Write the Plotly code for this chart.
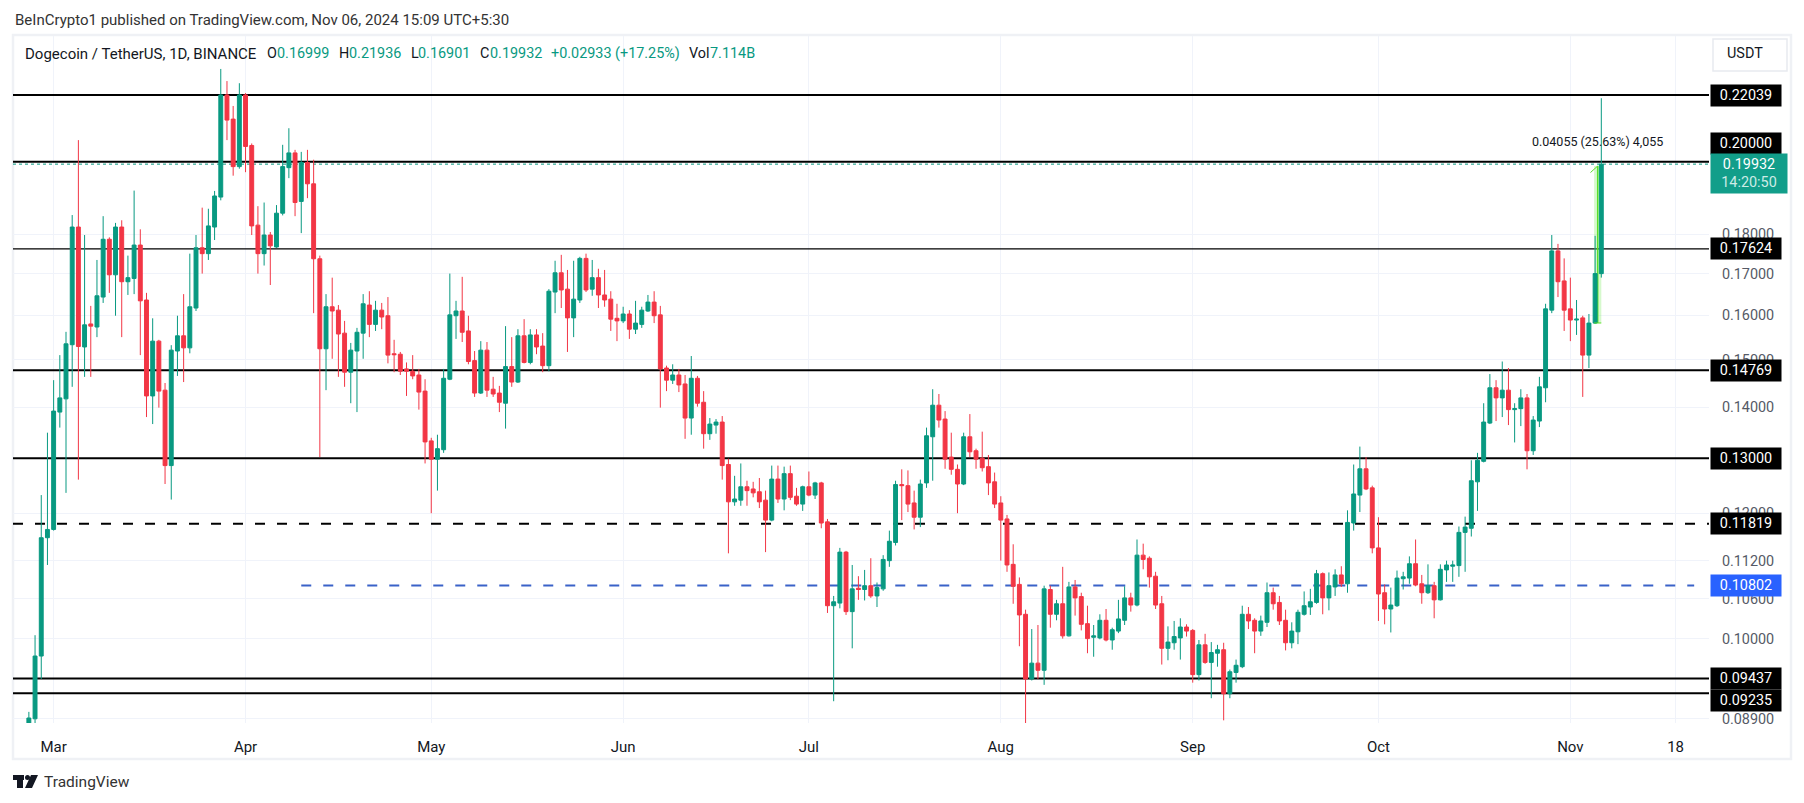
import math
import pandas as pd
import plotly.graph_objects as go

# Daily candles as (open, high, low, close), one small list per month
feb = [(.0860,.0899,.0855,.0891),(.0890,.1005,.0883,.0975),(.0975,.1232,.0943,.1158),(.1158,.1349,.1113,.1172)]
mar = [(.1172,.1456,.1170,.1392),(.1390,.1510,.1359,.1419),(.1417,.1562,.1236,.1535),(.1533,.1851,.1442,.1819),
(.1819,.2064,.1260,.1529),(.1528,.1798,.1463,.1578),(.1580,.1622,.1463,.1575),(.1573,.1734,.1550,.1646),
(.1643,.1848,.1629,.1787),(.1787,.1792,.1653,.1697),(.1697,.1830,.1599,.1819),(.1819,.1837,.1550,.1680),
(.1680,.1745,.1648,.1690),(.1688,.1918,.1650,.1772),(.1772,.1813,.1510,.1634),(.1636,.1653,.1380,.1423),
(.1423,.1593,.1366,.1541),(.1541,.1544,.1399,.1433),(.1435,.1450,.1252,.1286),(.1286,.1532,.1224,.1521),
(.1519,.1599,.1465,.1553),(.1553,.1650,.1452,.1526),(.1526,.1750,.1514,.1620),(.1617,.1798,.1610,.1765),
(.1765,.1871,.1700,.1750),(.1750,.1868,.1734,.1822),(.1819,.1917,.1785,.1903),(.1900,.2289,.1891,.2204),
(.2204,.2249,.2064,.2125),(.2128,.2169,.1960,.1986),(.1986,.2242,.1980,.2204)]
apr = [(.2204,.2210,.1970,.2045),(.2048,.2054,.1798,.1822),(.1824,.1875,.1700,.1750),(.1750,.1885,.1720,.1798),
(.1798,.1806,.1672,.1770),(.1767,.1878,.1765,.1856),(.1856,.2050,.1850,.1986),(.1983,.2100,.1953,.2026),
(.2026,.2035,.1848,.1885),(.1888,.2029,.1803,.1998),(.1998,.2035,.1897,.1937),(.1937,.2006,.1605,.1737),
(.1737,.1745,.1302,.1524),(.1524,.1650,.1435,.1620),(.1620,.1690,.1502,.1610),(.1612,.1624,.1463,.1557),
(.1559,.1587,.1442,.1473),(.1473,.1537,.1408,.1521),(.1519,.1571,.1390,.1561),(.1559,.1650,.1502,.1627),
(.1624,.1657,.1550,.1579),(.1579,.1634,.1564,.1612),(.1612,.1629,.1568,.1596),(.1599,.1643,.1492,.1510),
(.1513,.1544,.1473,.1511),(.1512,.1517,.1467,.1475),(.1480,.1494,.1423,.1475),(.1475,.1510,.1458,.1465),
(.1467,.1480,.1395,.1431),(.1433,.1458,.1290,.1331)]
may = [(.1333,.1339,.1200,.1298),(.1298,.1345,.1240,.1318),(.1316,.1480,.1310,.1460),(.1458,.1700,.1456,.1601),
(.1599,.1634,.1546,.1610),(.1610,.1692,.1539,.1561),(.1564,.1599,.1490,.1496),(.1498,.1519,.1421,.1429),
(.1429,.1541,.1427,.1521),(.1521,.1539,.1421,.1435),(.1437,.1463,.1421,.1427),(.1429,.1444,.1390,.1410),
(.1408,.1575,.1357,.1485),(.1485,.1550,.1442,.1452),(.1452,.1568,.1450,.1553),(.1553,.1591,.1492,.1494),
(.1494,.1568,.1490,.1555),(.1555,.1568,.1512,.1528),(.1530,.1559,.1473,.1487),(.1487,.1662,.1475,.1657),
(.1655,.1732,.1605,.1702),(.1702,.1747,.1617,.1660),(.1662,.1709,.1517,.1594),(.1594,.1732,.1550,.1638),
(.1636,.1742,.1629,.1738),(.1738,.1750,.1655,.1660),(.1662,.1734,.1646,.1690),(.1690,.1712,.1617,.1648),
(.1648,.1709,.1620,.1636),(.1638,.1657,.1564,.1591),(.1593,.1627,.1541,.1587)]
jun = [(.1587,.1620,.1582,.1603),(.1603,.1612,.1546,.1568),(.1568,.1634,.1557,.1582),(.1579,.1620,.1571,.1612),
(.1610,.1648,.1608,.1631),(.1631,.1657,.1582,.1599),(.1601,.1622,.1399,.1480),(.1482,.1487,.1433,.1456),
(.1456,.1490,.1448,.1467),(.1467,.1480,.1431,.1446),(.1448,.1467,.1337,.1378),(.1378,.1508,.1345,.1460),
(.1460,.1465,.1401,.1408),(.1410,.1433,.1318,.1347),(.1347,.1378,.1335,.1366),(.1364,.1376,.1347,.1370),
(.1370,.1382,.1260,.1286),(.1288,.1299,.1132,.1220),(.1220,.1267,.1213,.1225),(.1223,.1290,.1213,.1247),
(.1247,.1258,.1213,.1240),(.1243,.1256,.1228,.1236),(.1238,.1263,.1209,.1220),(.1223,.1240,.1134,.1188),
(.1188,.1286,.1186,.1261),(.1261,.1286,.1218,.1225),(.1225,.1284,.1205,.1271),(.1271,.1286,.1223,.1228),
(.1230,.1245,.1213,.1216),(.1216,.1249,.1204,.1247)]
jul = [(.1247,.1275,.1230,.1232),(.1232,.1256,.1225,.1254),(.1254,.1256,.1174,.1183),(.1185,.1190,.1038,.1049),
(.1049,.1064,.0913,.1055),(.1053,.1141,.1045,.1134),(.1134,.1136,.1035,.1040),(.1040,.1113,.0986,.1075),
(.1076,.1095,.1058,.1074),(.1074,.1105,.1057,.1080),(.1080,.1124,.1061,.1064),(.1064,.1085,.1047,.1077),
(.1075,.1129,.1072,.1122),(.1120,.1170,.1110,.1152),(.1150,.1258,.1145,.1251),(.1251,.1279,.1188,.1249),
(.1249,.1277,.1202,.1216),(.1218,.1240,.1172,.1193),(.1193,.1260,.1176,.1252),(.1254,.1359,.1245,.1343),
(.1341,.1437,.1258,.1404),(.1404,.1427,.1359,.1374),(.1376,.1392,.1280,.1298),(.1302,.1349,.1269,.1279),
(.1279,.1288,.1200,.1252),(.1252,.1349,.1250,.1341),(.1341,.1386,.1302,.1312),(.1314,.1318,.1280,.1298),
(.1300,.1351,.1275,.1282),(.1284,.1306,.1232,.1254),(.1256,.1273,.1209,.1216)]
aug = [(.1218,.1230,.1120,.1188),(.1190,.1197,.1102,.1113),(.1114,.1147,.1052,.1079),(.1082,.1093,.0989,.1035),
(.1036,.1043,.0884,.0943),(.0943,.1014,.0941,.0965),(.0965,.1020,.0943,.0955),(.0955,.1080,.0935,.1075),
(.1074,.1080,.1016,.1036),(.1036,.1058,.1027,.1052),(.1052,.1110,.1000,.1004),(.1004,.1086,.1003,.1078),
(.1078,.1089,.1034,.1061),(.1063,.1069,.1012,.1021),(.1022,.1049,.0979,.1000),(.1002,.1020,.0974,.1004),
(.1001,.1036,.0999,.1027),(.1027,.1044,.0996,.0998),(.0998,.1016,.0984,.1013),(.1011,.1058,.1008,.1029),
(.1027,.1079,.1020,.1061),(.1061,.1069,.1040,.1050),(.1050,.1155,.1048,.1129),(.1129,.1148,.1106,.1122),
(.1124,.1127,.1077,.1094),(.1095,.1102,.1044,.1050),(.1052,.1064,.0963,.0986),(.0986,.1018,.0969,.0995),
(.0994,.1026,.0984,.1003),(.1001,.1030,.0970,.1017),(.1017,.1021,.1003,.1011)]
sep = [(.1012,.1014,.0938,.0949),(.0949,.0998,.0941,.0991),(.0991,.1007,.0964,.0966),(.0966,.0995,.0917,.0980),
(.0979,.0991,.0960,.0984),(.0984,.0994,.0888,.0923),(.0923,.0956,.0917,.0953),(.0952,.0970,.0938,.0962),
(.0960,.1049,.0958,.1036),(.1036,.1047,.1014,.1026),(.1027,.1030,.0979,.1011),(.1011,.1034,.1004,.1026),
(.1024,.1085,.1017,.1069),(.1069,.1077,.1043,.1052),(.1054,.1064,.1020,.1026),(.1027,.1043,.0983,.0994),
(.0994,.1024,.0986,.1011),(.1010,.1043,.0992,.1039),(.1036,.1071,.1034,.1049),(.1047,.1075,.1035,.1055),
(.1054,.1105,.1052,.1099),(.1099,.1101,.1036,.1061),(.1061,.1101,.1042,.1080),(.1078,.1106,.1064,.1097),
(.1097,.1111,.1078,.1083),(.1083,.1205,.1069,.1184),(.1183,.1288,.1170,.1234),(.1232,.1322,.1202,.1280),
(.1280,.1302,.1241,.1243),(.1245,.1249,.1132,.1141)]
oct_ = [(.1141,.1193,.1026,.1067),(.1069,.1082,.1021,.1044),(.1044,.1077,.1009,.1050),(.1049,.1104,.1047,.1092),
(.1091,.1102,.1074,.1094),(.1092,.1127,.1083,.1115),(.1115,.1155,.1079,.1081),(.1083,.1097,.1052,.1069),
(.1069,.1114,.1067,.1080),(.1080,.1086,.1030,.1058),(.1058,.1114,.1057,.1106),(.1105,.1120,.1086,.1113),
(.1111,.1120,.1086,.1113),(.1112,.1177,.1094,.1167),(.1167,.1194,.1102,.1176),(.1174,.1296,.1160,.1258),
(.1256,.1310,.1204,.1296),(.1294,.1408,.1292,.1370),(.1368,.1469,.1366,.1440),(.1440,.1456,.1372,.1419),
(.1419,.1496,.1380,.1435),(.1435,.1482,.1364,.1395),(.1395,.1408,.1330,.1397),(.1397,.1437,.1362,.1419),
(.1419,.1427,.1279,.1314),(.1314,.1382,.1306,.1374),(.1372,.1463,.1360,.1442),(.1440,.1627,.1410,.1615),
(.1612,.1798,.1605,.1757),(.1757,.1775,.1643,.1680),(.1682,.1738,.1564,.1612)]
nov = [(.1615,.1690,.1541,.1589),(.1589,.1636,.1555,.1591),(.1594,.1599,.1421,.1510),(.1510,.1603,.1482,.1582),
(.1582,.1796,.1580,.1700),(.16999,.21936,.16901,.19932)]

rows = feb + mar + apr + may + jun + jul + aug + sep + oct_ + nov
dates = pd.date_range("2024-02-26", periods=len(rows))
opens = [r[0] for r in rows]
highs = [r[1] for r in rows]
lows = [r[2] for r in rows]
closes = [r[3] for r in rows]

# Horizontal levels
solid_levels = [0.22039, 0.20000, 0.14769, 0.13000, 0.09437, 0.09235]
thin_levels = [0.17624]
dashed_levels = [0.11819]
blue_level = 0.10802
last_price = 0.19932
measure_low = 0.15822
measure_high = 0.19877
arrow_head = 0.1969

price_ticks = [0.18, 0.17, 0.16, 0.15, 0.14, 0.12, 0.112, 0.106, 0.10, 0.089]
price_tick_text = ["0.18000", "0.17000", "0.16000", "0.15000", "0.14000",
                   "0.12000", "0.11200", "0.10600", "0.10000", "0.08900"]
time_ticks = ["2024-03-01", "2024-04-01", "2024-05-01", "2024-06-01", "2024-07-01", "2024-08-01",
              "2024-09-01", "2024-10-01", "2024-11-01", "2024-11-18"]
time_tick_text = ["Mar", "Apr", "May", "Jun", "Jul", "Aug", "Sep", "Oct", "Nov", "18"]
x_start, x_end = "2024-02-23 10:30", "2024-11-23 09:30"

W, H = 1804, 803
PX0, PX1, PY0, PY1 = 13, 1709, 36, 723
FONT = "Roboto"
GREEN, RED = "#089981", "#F23645"
GRID = "#F0F3FA"


def xp(px):
    return (px - PX0) / (PX1 - PX0)


def yp(py):
    return (PY1 - py) / (PY1 - PY0)


fig = go.Figure(go.Candlestick(
    x=dates, open=opens, high=highs, low=lows, close=closes,
    increasing=dict(line=dict(color=GREEN, width=1), fillcolor=GREEN),
    decreasing=dict(line=dict(color=RED, width=1), fillcolor=RED),
    whiskerwidth=0, hoverinfo="skip", showlegend=False,
))


def level_line(y, **line):
    return dict(type="line", xref="x", x0=x_start, x1=x_end, yref="y", y0=y, y1=y, layer="between", line=line)


shapes = []
shapes.append(level_line(last_price, color=GREEN, width=1, dash="dot"))
for lv in solid_levels:
    shapes.append(level_line(lv, color="#000000", width=2))
for lv in thin_levels:
    shapes.append(level_line(lv, color="#000000", width=1.2))
for lv in dashed_levels:
    shapes.append(level_line(lv, color="#000000", width=2, dash="10px,12px"))
shapes.append(dict(type="line", xref="x", x0="2024-04-10", x1="2024-11-21", yref="y",
                   y0=blue_level, y1=blue_level, layer="between",
                   line=dict(color="#3A62C8", width=2, dash="10px,12px")))
# Long-position style measure box and arrow around the last two candles
shapes.append(dict(type="rect", xref="x", x0="2024-11-04 20:00", x1="2024-11-06 00:00", yref="y",
                   y0=measure_low, y1=measure_high, layer="between",
                   fillcolor="rgba(120,235,90,0.30)", line=dict(width=0)))
shapes.append(dict(type="line", xref="x", x0="2024-11-04 20:00", x1="2024-11-06 00:00", yref="y",
                   y0=measure_low, y1=measure_low, layer="above", line=dict(color="#5BE02B", width=1)))
shapes.append(dict(type="line", xref="x", x0="2024-11-05 10:00", x1="2024-11-05 10:00", yref="y",
                   y0=measure_low, y1=measure_high, layer="between", line=dict(color="#5BE02B", width=1.5)))
shapes.append(dict(type="line", xref="x", x0="2024-11-05 10:00", x1="2024-11-04 06:00", yref="y",
                   y0=measure_high, y1=arrow_head, layer="above", line=dict(color="#5BE02B", width=1)))
# Outer frame of the chart widget
shapes.append(dict(type="rect", xref="paper", yref="paper", x0=xp(13), x1=xp(1791), y0=yp(759), y1=yp(35),
                   layer="below", line=dict(color="#EFF1F5", width=2.5)))
# USDT button
shapes.append(dict(type="rect", xref="paper", yref="paper", x0=xp(1713), x1=xp(1787), y0=yp(71), y1=yp(39),
                   layer="below", line=dict(color="#E8EAF0", width=1.5), fillcolor="#FFFFFF"))
# TradingView mark
logo = ("M {a} {t} L {b} {t} L {b} {e} L {c} {e} L {c} {u} L {d} {u} L {d} {e} L {a} {e} Z "
        "M {f} {t} L {g} {t} L {h} {u} L {i} {u} Z").format(
    a=xp(13), b=xp(24), c=xp(23), d=xp(17), t=yp(775), e=yp(780), u=yp(788),
    f=xp(31), g=xp(38), h=xp(32), i=xp(25))
shapes.append(dict(type="path", xref="paper", yref="paper", path=logo, fillcolor="#131722", line=dict(width=0)))
shapes.append(dict(type="circle", xref="paper", yref="paper", x0=xp(25), x1=xp(30), y0=yp(780), y1=yp(775),
                   fillcolor="#131722", line=dict(width=0)))

annotations = []


def text_at(px, py, text, color="#131722", size=14, anchor="left"):
    annotations.append(dict(xref="paper", yref="paper", x=xp(px), y=yp(py), text=text, showarrow=False,
                            xanchor=anchor, yanchor="middle", align=anchor,
                            font=dict(family=FONT, size=size, color=color)))


text_at(13, 20, "BeInCrypto1 published on TradingView.com, Nov 06, 2024 15:09 UTC+5:30", "#333333", 15)
text_at(23, 54, "Dogecoin / TetherUS, 1D, BINANCE", "#131722", 15)
for px, s in [(265, "O"), (337, "H"), (409, "L"), (478, "C"), (687, "Vol")]:
    text_at(px, 54, s, "#131722", 14.4)
for px, s in [(275, "0.16999"), (347, "0.21936"), (416, "0.16901"), (488, "0.19932"),
              (549, "+0.02933 (+17.25%)"), (708, "7.114B")]:
    text_at(px, 54, s, GREEN, 14.4)
text_at(1725, 54, "USDT", "#131722", 14.4)
text_at(1530, 142, "0.04055 (25.63%) 4,055", "#131722", 12.5)
text_at(42, 782, "TradingView", "#333333", 15.5)


def price_box(level, label, bg="#000000", shift=0, width=70, height=21):
    annotations.append(dict(xref="paper", yref="y", x=1, y=math.log10(level), xanchor="left", yanchor="middle",
                            xshift=1, yshift=shift, text=label, showarrow=False, width=width, height=height,
                            bgcolor=bg, borderpad=0, align="center", valign="middle",
                            font=dict(family=FONT, size=14.4, color="#FFFFFF")))


price_box(0.22039, "0.22039")
price_box(0.20000, "0.20000", shift=18)
price_box(0.17624, "0.17624")
price_box(0.14769, "0.14769")
price_box(0.13000, "0.13000")
price_box(0.11819, "0.11819")
price_box(0.10802, "0.10802", bg="#2962FF")
price_box(0.09437, "0.09437")
price_box(0.09235, "0.09235", shift=-7)
price_box(last_price, "0.19932<br><span style='color:#CDEBE6'>14:20:50</span>", bg="#129E8A", shift=-9,
          width=76, height=39)

fig.update_layout(
    width=W, height=H, paper_bgcolor="#FFFFFF", plot_bgcolor="#FFFFFF",
    margin=dict(l=PX0, r=W - PX1, t=PY0, b=H - PY1, pad=0),
    showlegend=False, boxgap=0.1, shapes=shapes, annotations=annotations,
    font=dict(family=FONT, size=14, color="#131722"),
    xaxis=dict(type="date", range=[x_start, x_end], rangeslider=dict(visible=False),
               tickmode="array", tickvals=time_ticks, ticktext=time_tick_text, showgrid=True, gridcolor=GRID,
               gridwidth=1, zeroline=False, showline=False, ticks="outside", ticklen=10,
               tickcolor="rgba(0,0,0,0)", tickangle=0, tickfont=dict(family=FONT, size=15, color="#131722")),
    yaxis=dict(type="log", side="right", range=[-1.05327, -0.61956], tickmode="array", tickvals=price_ticks,
               ticktext=price_tick_text, showgrid=True, gridcolor=GRID, gridwidth=1, zeroline=False,
               showline=False, ticks="outside", ticklen=9, tickcolor="rgba(0,0,0,0)",
               tickfont=dict(family=FONT, size=14.4, color="#555A66")),
)

fig.write_html("out.html", config=dict(displayModeBar=False),
               post_script="document.body.style.margin='0';")
